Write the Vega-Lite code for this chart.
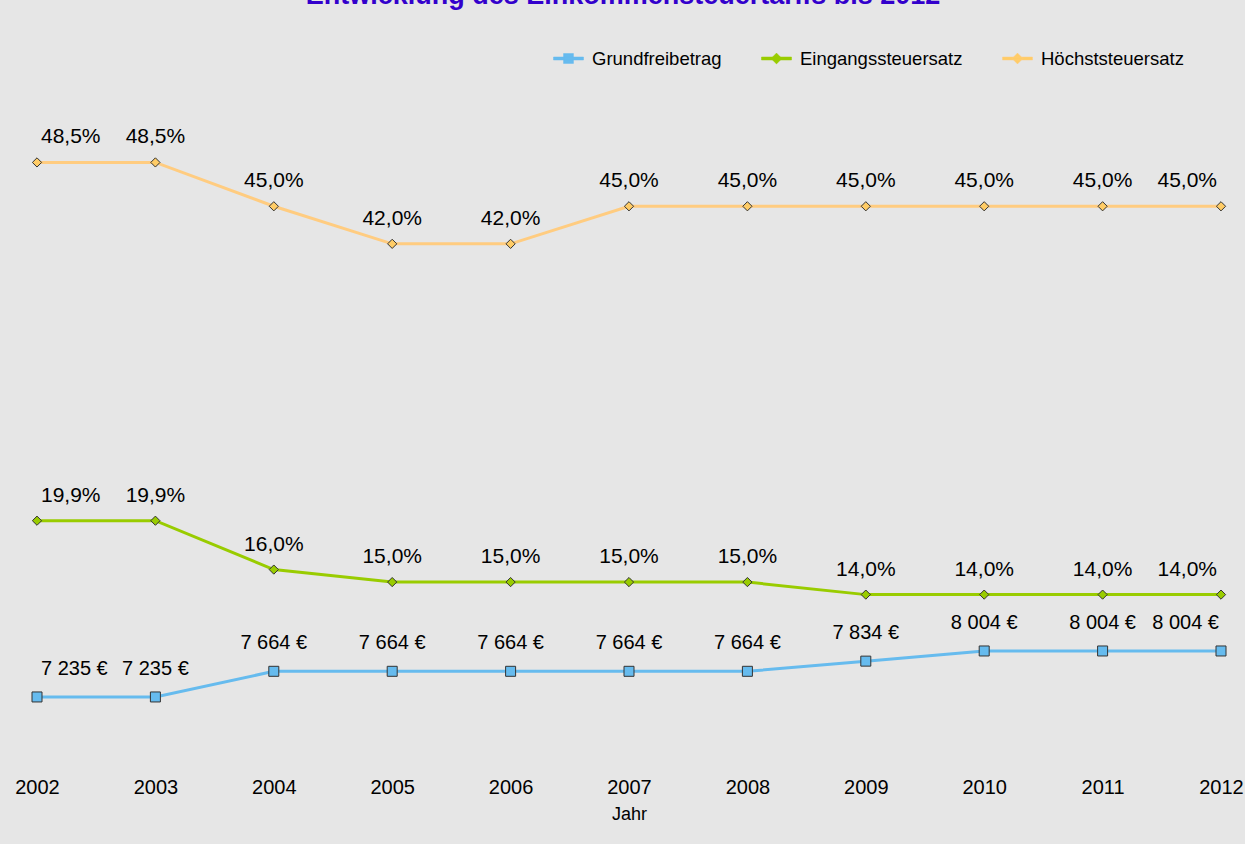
{
  "$schema": "https://vega.github.io/schema/vega-lite/v6.json",
  "width": 1184,
  "height": 689,
  "autosize": {"type": "none"},
  "padding": {"left": 37, "top": 81, "right": 24, "bottom": 74},
  "background": "#e6e6e6",
  "title": {
    "text": "Entwicklung des Einkommensteuertarifs bis 2012",
    "font": "Liberation Sans",
    "fontSize": 27,
    "fontWeight": "bold",
    "color": "#3300cc",
    "anchor": "middle",
    "frame": "group",
    "baseline": "alphabetic",
    "offset": 12,
    "dx": -6
  },
  "data": {
    "values": [
      {"Jahr": 2002, "Serie": "Höchststeuersatz", "Wert": 48.5, "Label": "48,5%"},
      {"Jahr": 2003, "Serie": "Höchststeuersatz", "Wert": 48.5, "Label": "48,5%"},
      {"Jahr": 2004, "Serie": "Höchststeuersatz", "Wert": 45.0, "Label": "45,0%"},
      {"Jahr": 2005, "Serie": "Höchststeuersatz", "Wert": 42.0, "Label": "42,0%"},
      {"Jahr": 2006, "Serie": "Höchststeuersatz", "Wert": 42.0, "Label": "42,0%"},
      {"Jahr": 2007, "Serie": "Höchststeuersatz", "Wert": 45.0, "Label": "45,0%"},
      {"Jahr": 2008, "Serie": "Höchststeuersatz", "Wert": 45.0, "Label": "45,0%"},
      {"Jahr": 2009, "Serie": "Höchststeuersatz", "Wert": 45.0, "Label": "45,0%"},
      {"Jahr": 2010, "Serie": "Höchststeuersatz", "Wert": 45.0, "Label": "45,0%"},
      {"Jahr": 2011, "Serie": "Höchststeuersatz", "Wert": 45.0, "Label": "45,0%"},
      {"Jahr": 2012, "Serie": "Höchststeuersatz", "Wert": 45.0, "Label": "45,0%"},
      {"Jahr": 2002, "Serie": "Eingangssteuersatz", "Wert": 19.9, "Label": "19,9%"},
      {"Jahr": 2003, "Serie": "Eingangssteuersatz", "Wert": 19.9, "Label": "19,9%"},
      {"Jahr": 2004, "Serie": "Eingangssteuersatz", "Wert": 16.0, "Label": "16,0%"},
      {"Jahr": 2005, "Serie": "Eingangssteuersatz", "Wert": 15.0, "Label": "15,0%"},
      {"Jahr": 2006, "Serie": "Eingangssteuersatz", "Wert": 15.0, "Label": "15,0%"},
      {"Jahr": 2007, "Serie": "Eingangssteuersatz", "Wert": 15.0, "Label": "15,0%"},
      {"Jahr": 2008, "Serie": "Eingangssteuersatz", "Wert": 15.0, "Label": "15,0%"},
      {"Jahr": 2009, "Serie": "Eingangssteuersatz", "Wert": 14.0, "Label": "14,0%"},
      {"Jahr": 2010, "Serie": "Eingangssteuersatz", "Wert": 14.0, "Label": "14,0%"},
      {"Jahr": 2011, "Serie": "Eingangssteuersatz", "Wert": 14.0, "Label": "14,0%"},
      {"Jahr": 2012, "Serie": "Eingangssteuersatz", "Wert": 14.0, "Label": "14,0%"},
      {"Jahr": 2002, "Serie": "Grundfreibetrag", "Wert": 7235, "Label": "7 235 €"},
      {"Jahr": 2003, "Serie": "Grundfreibetrag", "Wert": 7235, "Label": "7 235 €"},
      {"Jahr": 2004, "Serie": "Grundfreibetrag", "Wert": 7664, "Label": "7 664 €"},
      {"Jahr": 2005, "Serie": "Grundfreibetrag", "Wert": 7664, "Label": "7 664 €"},
      {"Jahr": 2006, "Serie": "Grundfreibetrag", "Wert": 7664, "Label": "7 664 €"},
      {"Jahr": 2007, "Serie": "Grundfreibetrag", "Wert": 7664, "Label": "7 664 €"},
      {"Jahr": 2008, "Serie": "Grundfreibetrag", "Wert": 7664, "Label": "7 664 €"},
      {"Jahr": 2009, "Serie": "Grundfreibetrag", "Wert": 7834, "Label": "7 834 €"},
      {"Jahr": 2010, "Serie": "Grundfreibetrag", "Wert": 8004, "Label": "8 004 €"},
      {"Jahr": 2011, "Serie": "Grundfreibetrag", "Wert": 8004, "Label": "8 004 €"},
      {"Jahr": 2012, "Serie": "Grundfreibetrag", "Wert": 8004, "Label": "8 004 €"}
    ]
  },
  "encoding": {
    "x": {
      "field": "Jahr",
      "type": "ordinal",
      "scale": {"type": "point", "padding": 0},
      "axis": {
        "title": "Jahr",
        "labelAngle": 0,
        "domain": false,
        "ticks": false,
        "grid": false,
        "labelFont": "Liberation Sans",
        "labelFontSize": 20,
        "labelColor": "#000000",
        "labelPadding": 7,
        "titleFont": "Liberation Sans",
        "titleFontSize": 18,
        "titleFontWeight": "normal",
        "titleColor": "#000000",
        "titlePadding": 8
      }
    }
  },
  "layer": [
    {
      "transform": [{"filter": "datum.Serie !== 'Grundfreibetrag'"}],
      "encoding": {
        "y": {
          "field": "Wert",
          "type": "quantitative",
          "scale": {"domain": [0, 55], "nice": false, "zero": false},
          "axis": null
        }
      },
      "layer": [
        {
          "mark": {"type": "line", "strokeWidth": 3},
          "encoding": {
            "color": {
              "field": "Serie",
              "type": "nominal",
              "scale": {"domain": ["Grundfreibetrag", "Eingangssteuersatz", "Höchststeuersatz"], "range": ["#66bbee", "#99cc00", "#ffcc80"]},
              "legend": {
                "orient": "none",
                "legendX": 516,
                "legendY": -38,
                "direction": "horizontal",
                "title": null,
                "labelFont": "Liberation Sans",
                "labelFontSize": 18.5,
                "labelColor": "#000000",
                "labelLimit": 400,
                "symbolSize": 900,
                "labelOffset": 8,
                "columnPadding": 38,
                "encode": {
                  "symbols": {
                    "update": {
                      "shape": {"signal": "datum.value === 'Grundfreibetrag' ? 'M-1,-0.1H1V0.1H-1Z M-0.33,-0.33H0.33V0.33H-0.33Z' : 'M-1,-0.1H1V0.1H-1Z M-0.36,0L0,-0.36L0.36,0L0,0.36Z'"},
                      "fill": {"scale": "color", "field": "value"},
                      "stroke": {"scale": "color", "field": "value"},
                      "strokeWidth": {"value": 0.5},
                      "opacity": {"value": 1}
                    }
                  }
                }
              }
            }
          }
        },
        {
          "mark": {"type": "point", "shape": "diamond", "filled": true, "size": 85, "stroke": "#333333", "strokeWidth": 1, "opacity": 1},
          "encoding": {
            "fill": {"field": "Serie", "type": "nominal", "legend": null, "scale": {"domain": ["Grundfreibetrag", "Eingangssteuersatz", "Höchststeuersatz"], "range": ["#66bbee", "#99cc00", "#ffcc66"]}}
          }
        },
        {
          "mark": {
            "type": "text",
            "font": "Liberation Sans",
            "fontSize": 21,
            "color": "#000000",
            "baseline": "alphabetic",
            "dy": -19,
            "align": {"expr": "datum.Jahr == 2002 ? 'left' : datum.Jahr == 2012 ? 'right' : 'center'"},
            "dx": {"expr": "datum.Jahr == 2002 ? 4 : datum.Jahr == 2012 ? -4 : 0"}
          },
          "encoding": {"text": {"field": "Label"}}
        }
      ]
    },
    {
      "transform": [{"filter": "datum.Serie === 'Grundfreibetrag'"}],
      "encoding": {
        "y": {
          "field": "Wert",
          "type": "quantitative",
          "scale": {"domain": [6014, 17533], "nice": false, "zero": false},
          "axis": null
        }
      },
      "layer": [
        {
          "mark": {"type": "line", "strokeWidth": 3},
          "encoding": {
            "color": {"field": "Serie", "type": "nominal"}
          }
        },
        {
          "mark": {"type": "point", "shape": "square", "filled": true, "size": 100, "stroke": "#333333", "strokeWidth": 1, "opacity": 1},
          "encoding": {
            "fill": {"field": "Serie", "type": "nominal", "legend": null}
          }
        },
        {
          "mark": {
            "type": "text",
            "font": "Liberation Sans",
            "fontSize": 20,
            "color": "#000000",
            "baseline": "alphabetic",
            "dy": -22,
            "align": {"expr": "datum.Jahr == 2002 ? 'left' : datum.Jahr == 2012 ? 'right' : 'center'"},
            "dx": {"expr": "datum.Jahr == 2002 ? 4 : datum.Jahr == 2012 ? -2 : 0"}
          },
          "encoding": {"text": {"field": "Label"}}
        }
      ]
    }
  ],
  "resolve": {"scale": {"y": "independent"}},
  "config": {
    "font": "Liberation Sans",
    "view": {"stroke": null}
  }
}
